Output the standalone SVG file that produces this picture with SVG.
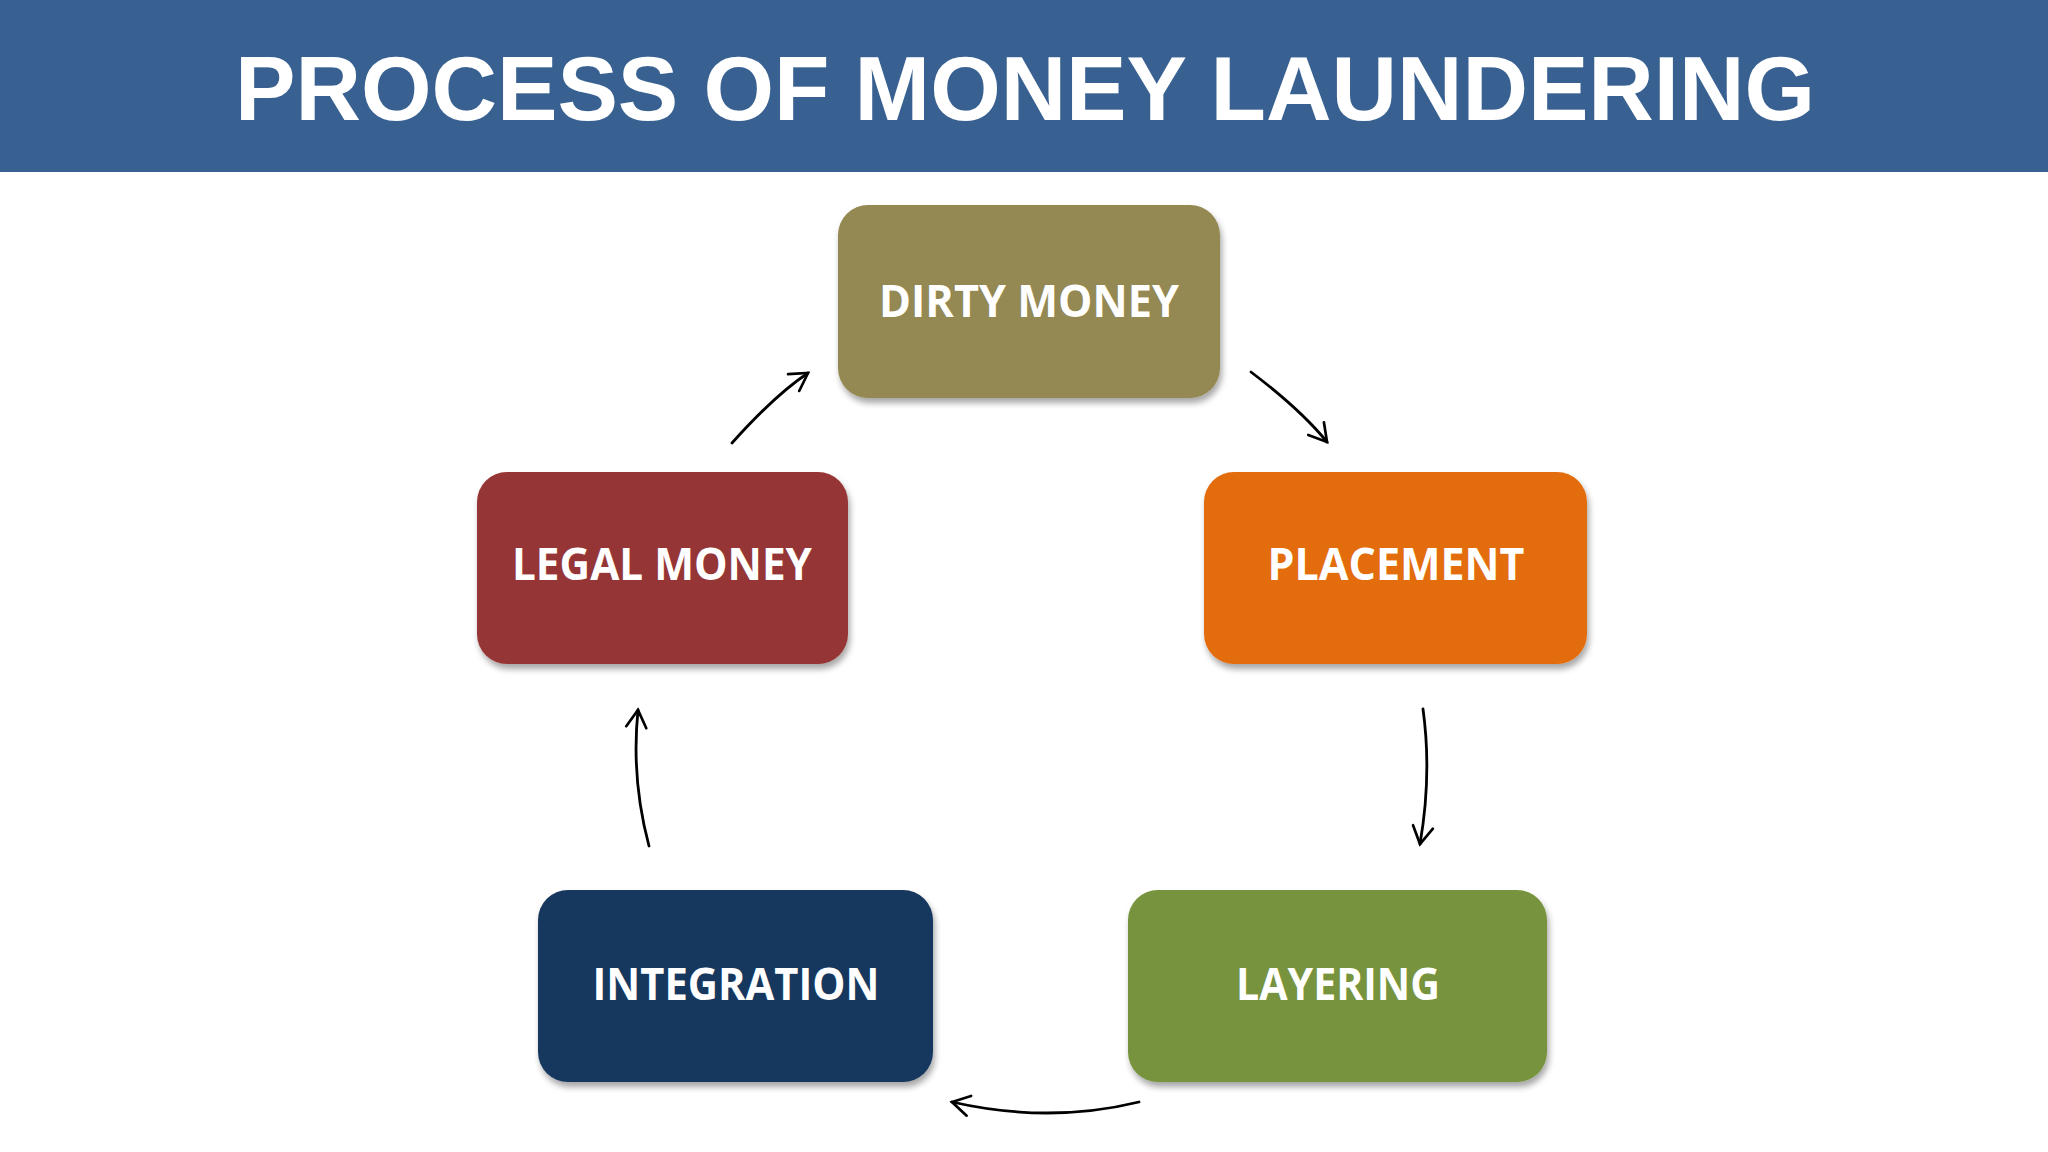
<svg xmlns="http://www.w3.org/2000/svg" width="2048" height="1152" viewBox="0 0 2048 1152">
  <style>
    .title { font-family: "Liberation Sans", Arial, sans-serif; font-weight: bold; font-size: 90px; fill: #ffffff; }
    .lbl { font-family: "Open Sans", "Liberation Sans", sans-serif; font-weight: bold; font-size: 44px; fill: #ffffff; }
    .box { filter: url(#shadow); }
    .conn { fill: none; stroke: #000000; stroke-width: 2.8; stroke-linecap: round; marker-end: url(#arrow); }
  </style>
  <defs>
    <filter id="shadow" x="-10%" y="-10%" width="120%" height="130%">
      <feDropShadow dx="2" dy="5" stdDeviation="3" flood-color="#000000" flood-opacity="0.35"/>
    </filter>
    <marker id="arrow" markerUnits="userSpaceOnUse" markerWidth="24" markerHeight="24" viewBox="-2 -2 24 25" refX="18" refY="10.5" orient="auto">
      <path d="M0,0 L18,10.5 L0,21" fill="none" stroke="#000000" stroke-width="2.8" stroke-linecap="round" stroke-linejoin="miter"/>
    </marker>
  </defs>
  <rect x="0" y="0" width="2048" height="1152" fill="#ffffff"/>
  <g id="header">
    <rect x="0" y="0" width="2048" height="172" fill="#386192"/>
    <text class="title" x="1025" y="120" text-anchor="middle" textLength="1580" lengthAdjust="spacingAndGlyphs">PROCESS OF MONEY LAUNDERING</text>
  </g>
  <g id="connectors">
    <path class="conn" d="M732,443 Q775,395 808,373"/>
    <path class="conn" d="M1251,372 Q1301,410 1327,442"/>
    <path class="conn" d="M1423,709 Q1432,775 1420,844"/>
    <path class="conn" d="M1139,1102 Q1049,1124 952,1102"/>
    <path class="conn" d="M649,846 Q631,779 638,710"/>
  </g>
  <g id="node-dirty-money">
    <rect class="box" x="838" y="205" width="382" height="193" rx="30" fill="#948852"/>
    <text class="lbl" x="1029" y="317" text-anchor="middle" textLength="300" lengthAdjust="spacingAndGlyphs">DIRTY MONEY</text>
  </g>
  <g id="node-legal-money">
    <rect class="box" x="477" y="472" width="371" height="192" rx="30" fill="#953535"/>
    <text class="lbl" x="662" y="580" text-anchor="middle" textLength="300" lengthAdjust="spacingAndGlyphs">LEGAL MONEY</text>
  </g>
  <g id="node-placement">
    <rect class="box" x="1204" y="472" width="383" height="192" rx="30" fill="#E36C0E"/>
    <text class="lbl" x="1396" y="580" text-anchor="middle" textLength="257" lengthAdjust="spacingAndGlyphs">PLACEMENT</text>
  </g>
  <g id="node-integration">
    <rect class="box" x="538" y="890" width="395" height="192" rx="30" fill="#17375E"/>
    <text class="lbl" x="736" y="1000" text-anchor="middle" textLength="287" lengthAdjust="spacingAndGlyphs">INTEGRATION</text>
  </g>
  <g id="node-layering">
    <rect class="box" x="1128" y="890" width="419" height="192" rx="30" fill="#77933C"/>
    <text class="lbl" x="1338" y="1000" text-anchor="middle" textLength="204" lengthAdjust="spacingAndGlyphs">LAYERING</text>
  </g>
</svg>
